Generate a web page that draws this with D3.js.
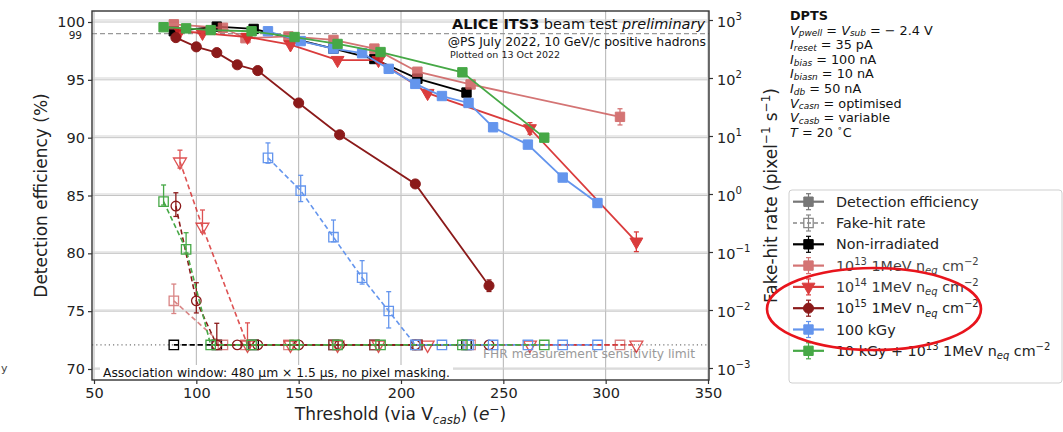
<!DOCTYPE html>
<html>
<head>
<meta charset="utf-8">
<script src="https://cdn.jsdelivr.net/npm/d3@7"></script>
<style>
  body { margin: 0; background: #fff; }
  svg { font-family: "DejaVu Sans", sans-serif; }
</style>
</head>
<body>
<div id="chart"></div>
<script>
// FHR sensitivity limit (pixel^-1 s^-1)
const LIM = 0.0025;

// Non-irradiated
const thrNonIrr = [89, 110, 128, 167, 187, 208, 232];
const effNonIrr = [99.2, 99.6, 99.4, 97.7, 96.8, 95.1, 93.9];
const effErrNonIrr = [0.15, 0.1, 0.1, 0.15, 0.15, 0.2, 0.25];
const fhrNonIrr = [LIM, LIM, LIM, LIM, LIM, LIM, LIM];
const fhrLoNonIrr = [null, null, null, null, null, null, null];
const fhrHiNonIrr = [null, null, null, null, null, null, null];

// 1e13 1MeV neq cm-2
const thr13 = [89, 113, 124, 145, 167, 187, 208, 234, 307];
const eff13 = [99.8, 99.5, 98.6, 98.75, 98.45, 97.7, 95.7, 94.6, 91.8];
const effErr13 = [0.1, 0.1, 0.15, 0.15, 0.15, 0.2, 0.25, 0.3, 0.7];
const fhr13 = [0.0144, LIM, LIM, LIM, LIM, LIM, LIM, LIM, LIM];
const fhrLo13 = [0.0087, null, null, null, null, null, null, null, null];
const fhrHi13 = [0.028, null, null, null, null, null, null, null, null];

// 1e14 1MeV neq cm-2
const thr14 = [92, 103, 125, 146, 169, 189, 213, 263, 315];
const eff14 = [99.2, 99.05, 98.7, 98.05, 96.7, 96.7, 93.85, 90.8, 81.0];
const effErr14 = [0.15, 0.15, 0.15, 0.15, 0.2, 0.2, 0.3, 0.5, 0.85];
const fhr14 = [3.6, 0.27, LIM, LIM, LIM, LIM, LIM, LIM, LIM];
const fhrLo14 = [2.8, 0.22, null, null, null, null, null, null, null];
const fhrHi14 = [5.7, 0.53, 0.006, null, null, null, null, null, null];

// 1e15 1MeV neq cm-2
const thr15 = [90, 100, 110, 120, 130, 150, 170, 207, 243];
const eff15 = [98.65, 97.85, 97.35, 96.3, 95.8, 93.0, 90.25, 86.0, 77.2];
const effErr15 = [0.15, 0.15, 0.15, 0.2, 0.2, 0.2, 0.25, 0.3, 0.5];
const fhr15 = [0.62, 0.0144, LIM, LIM, LIM, LIM, LIM, LIM, LIM];
const fhrLo15 = [0.41, 0.0089, null, null, null, null, null, null, null];
const fhrHi15 = [1.05, 0.0295, 0.0059, null, null, null, null, null, null];

// 100 kGy
const thr100k = [135, 151, 167, 181, 194, 207, 220, 233, 245, 262, 279, 296];
const eff100k = [99.2, 98.35, 97.7, 97.3, 95.95, 94.65, 93.6, 93.0, 90.9, 89.4, 86.55, 84.35];
const effErr100k = [0.1, 0.15, 0.15, 0.15, 0.2, 0.2, 0.2, 0.2, 0.25, 0.3, 0.3, 0.35];
const fhr100k = [4.2, 1.14, 0.18, 0.036, 0.0096, LIM, LIM, LIM, LIM, LIM, LIM, LIM];
const fhrLo100k = [3.4, 0.74, 0.15, 0.028, 0.0049, null, null, null, null, null, null, null];
const fhrHi100k = [7.6, 2.1, 0.356, 0.071, 0.0207, null, null, null, null, null, null, null];

// 10 kGy + 1e13 1MeV neq cm-2
const thrMix = [84, 95, 107, 127, 148, 169, 190, 230, 270];
const effMix = [99.55, 99.45, 99.3, 99.2, 98.7, 98.1, 97.4, 95.65, 90.0];
const effErrMix = [0.1, 0.1, 0.1, 0.1, 0.15, 0.15, 0.2, 0.2, 0.3];
const fhrMix = [0.74, 0.111, LIM, LIM, LIM, LIM, LIM, LIM, LIM];
const fhrLoMix = [0.645, 0.096, null, null, null, null, null, null, null];
const fhrHiMix = [1.43, 0.215, null, null, null, null, null, null, null];

// ticks
const xTicks = [50, 100, 150, 200, 250, 300, 350];
const effTicks = [70, 75, 80, 85, 90, 95, 100];
const fhrTicks = [-3, -2, -1, 0, 1, 2, 3];

const W = 1063;
const H = 432;
const plot = { left: 92, right: 709, top: 11, bottom: 380 };

const x = d3.scaleLinear().domain([50, 350]).range([94, 708]);
const yEff = d3.scaleLinear().domain([70, 100]).range([369, 22]);
const yFhr = d3.scaleLog().domain([1e-3, 1e3]).range([368, 20]);

const series = [
  { label: [['Non-irradiated']], color: '#000', marker: 'square', thr: thrNonIrr, eff: effNonIrr, effErr: effErrNonIrr, fhr: fhrNonIrr, lo: fhrLoNonIrr, hi: fhrHiNonIrr, op: 1 },
  { label: [['10'], ['13', 'sup'], [' 1MeV n'], ['eq', 'sub it'], [' cm'], ['\u22122', 'sup']], color: '#cd5c5c', marker: 'square', thr: thr13, eff: eff13, effErr: effErr13, fhr: fhr13, lo: fhrLo13, hi: fhrHi13, op: 0.85 },
  { label: [['10'], ['14', 'sup'], [' 1MeV n'], ['eq', 'sub it'], [' cm'], ['\u22122', 'sup']], color: '#d62728', marker: 'tri', thr: thr14, eff: eff14, effErr: effErr14, fhr: fhr14, lo: fhrLo14, hi: fhrHi14, op: 0.9 },
  { label: [['10'], ['15', 'sup'], [' 1MeV n'], ['eq', 'sub it'], [' cm'], ['\u22122', 'sup']], color: '#8b1a1a', marker: 'circle', thr: thr15, eff: eff15, effErr: effErr15, fhr: fhr15, lo: fhrLo15, hi: fhrHi15, op: 1 },
  { label: [['100 kGy']], color: '#6495ed', marker: 'square', thr: thr100k, eff: eff100k, effErr: effErr100k, fhr: fhr100k, lo: fhrLo100k, hi: fhrHi100k, op: 1 },
  { label: [['10 kGy + 10'], ['13', 'sup'], [' 1MeV n'], ['eq', 'sub it'], [' cm'], ['\u22122', 'sup']], color: '#46a846', marker: 'square', thr: thrMix, eff: effMix, effErr: effErrMix, fhr: fhrMix, lo: fhrLoMix, hi: fhrHiMix, op: 1 }
];

function rich(sel, parts, fs, subShift) {
  const sub = subShift == null ? 0.25 : subShift;
  let shift = 0;
  parts.forEach(p => {
    const txt = p[0];
    const kind = (p[1] || '').split(' ');
    let target = 0;
    if (kind.includes('sup')) target = -0.42 * fs;
    if (kind.includes('sub')) target = sub * fs;
    const ts = sel.append('tspan').text(txt).attr('dy', target - shift);
    shift = target;
    if (kind.includes('sup') || kind.includes('sub')) ts.attr('font-size', fs * 0.7);
    if (kind.includes('it')) ts.attr('font-style', 'italic');
    if (kind.includes('bold')) ts.attr('font-weight', 'bold');
  });
  return sel;
}

function symbolPath(type, filled) {
  if (type === 'circle') return d3.symbol(d3.symbolCircle, filled ? 80 : 72)();
  if (type === 'tri') return d3.symbol(d3.symbolTriangle, 72)();
  return d3.symbol(d3.symbolSquare, 88)();
}

function marker(g, type, cx, cy, color, filled) {
  const rot = type === 'tri' ? ' rotate(180)' : '';
  g.append('path')
    .attr('d', symbolPath(type, filled))
    .attr('transform', `translate(${cx},${cy})${rot}`)
    .attr('fill', filled ? color : 'none')
    .attr('stroke', color)
    .attr('stroke-width', filled ? 1 : 1.3);
}

function errBar(g, cx, y1, y2, color, w) {
  g.append('line').attr('x1', cx).attr('x2', cx).attr('y1', y1).attr('y2', y2)
    .attr('stroke', color).attr('stroke-width', w);
  [y1, y2].forEach(yy => g.append('line')
    .attr('x1', cx - 2.5).attr('x2', cx + 2.5).attr('y1', yy).attr('y2', yy)
    .attr('stroke', color).attr('stroke-width', w));
}

const svg = d3.select('#chart').append('svg').attr('width', W).attr('height', H);

svg.append('rect').attr('width', W).attr('height', H).attr('fill', '#fff');

// grids
const grid = svg.append('g');
grid.selectAll('.vg').data(xTicks).enter().append('line')
  .attr('x1', d => x(d)).attr('x2', d => x(d))
  .attr('y1', plot.top).attr('y2', plot.bottom)
  .attr('stroke', '#b4b4b4').attr('stroke-width', 1);
grid.selectAll('.hg').data(effTicks).enter().append('line')
  .attr('x1', plot.left).attr('x2', plot.right)
  .attr('y1', d => yEff(d)).attr('y2', d => yEff(d))
  .attr('stroke', '#c4c4c4').attr('stroke-width', 1);
grid.selectAll('.hg2').data(fhrTicks).enter().append('line')
  .attr('x1', plot.left).attr('x2', plot.right)
  .attr('y1', d => yFhr(Math.pow(10, d))).attr('y2', d => yFhr(Math.pow(10, d)))
  .attr('stroke', '#d4d4d4').attr('stroke-width', 1);

// 99 % reference
svg.append('line')
  .attr('x1', plot.left).attr('x2', plot.right)
  .attr('y1', yEff(99)).attr('y2', yEff(99))
  .attr('stroke', '#999').attr('stroke-width', 1.2).attr('stroke-dasharray', '5,3');

// FHR sensitivity limit
svg.append('line')
  .attr('x1', plot.left).attr('x2', plot.right)
  .attr('y1', yFhr(LIM)).attr('y2', yFhr(LIM))
  .attr('stroke', '#777').attr('stroke-width', 1.1).attr('stroke-dasharray', '1.2,3');
svg.append('text')
  .attr('x', 695).attr('y', yFhr(LIM) + 13)
  .attr('text-anchor', 'end').attr('font-size', 12.3).attr('fill', '#9a9a9a')
  .text('FHR measurement sensitivity limit');

// association window note
const note = svg.append('g');
const noteText = note.append('text')
  .attr('x', 103).attr('y', 377)
  .attr('font-size', 12.3).attr('fill', '#111')
  .text('Association window: 480 \u03bcm \u00d7 1.5 \u03bcs, no pixel masking.');
const nb = noteText.node().getBBox();
note.insert('rect', 'text')
  .attr('x', nb.x - 3).attr('y', nb.y - 1).attr('width', nb.width + 6).attr('height', nb.height + 1)
  .attr('fill', '#fff');

// efficiency series
const effLine = d3.line().x(d => x(d[0])).y(d => yEff(d[1]));
series.forEach(s => {
  const g = svg.append('g').attr('opacity', s.op);
  const pts = s.thr.map((t, i) => [t, s.eff[i], s.effErr[i]]);
  g.append('path').attr('d', effLine(pts))
    .attr('fill', 'none').attr('stroke', s.color).attr('stroke-width', 1.8);
  pts.forEach(p => errBar(g, x(p[0]), yEff(p[1] - p[2]), yEff(p[1] + p[2]), s.color, 1.3));
  pts.forEach(p => marker(g, s.marker, x(p[0]), yEff(p[1]), s.color, true));
});

// fake-hit rate series
const fhrLine = d3.line().x(d => x(d[0])).y(d => yFhr(d[1]));
series.forEach(s => {
  const g = svg.append('g').attr('opacity', s.op === 1 ? 1 : s.op - 0.1);
  const pts = s.thr.map((t, i) => [t, s.fhr[i], s.lo[i], s.hi[i]]);
  g.append('path').attr('d', fhrLine(pts))
    .attr('fill', 'none').attr('stroke', s.color).attr('stroke-width', 1.6)
    .attr('stroke-dasharray', '5,3');
  pts.forEach(p => {
    if (p[3] != null) errBar(g, x(p[0]), yFhr(p[2] != null ? p[2] : p[1]), yFhr(p[3]), s.color, 1.3);
  });
  pts.forEach(p => marker(g, s.marker, x(p[0]), yFhr(p[1]), s.color, false));
});

// frame
svg.append('rect')
  .attr('x', plot.left).attr('y', plot.top)
  .attr('width', plot.right - plot.left).attr('height', plot.bottom - plot.top)
  .attr('fill', 'none').attr('stroke', '#333').attr('stroke-width', 1.4);

// axes
function styleAxis(g, fs) {
  g.select('.domain').remove();
  g.selectAll('.tick line').attr('stroke', '#333').attr('stroke-width', 1.2);
  g.selectAll('.tick text').attr('font-size', fs).attr('fill', '#222')
    .attr('font-family', '"DejaVu Sans", sans-serif');
}
svg.append('g').attr('transform', `translate(0,${plot.bottom})`)
  .call(d3.axisBottom(x).tickValues(xTicks).tickSize(4).tickPadding(4))
  .call(g => styleAxis(g, 14.5));
svg.append('g').attr('transform', `translate(${plot.left},0)`)
  .call(d3.axisLeft(yEff).tickValues(effTicks).tickSize(4).tickPadding(3))
  .call(g => styleAxis(g, 14.5));
svg.append('g').attr('transform', `translate(${plot.left},0)`)
  .call(d3.axisLeft(yEff).tickValues([99]).tickSize(0).tickPadding(10))
  .call(g => styleAxis(g, 10.5))
  .call(g => g.selectAll('.tick text').attr('dy', '0.45em'));
const rAxis = svg.append('g').attr('transform', `translate(${plot.right},0)`)
  .call(d3.axisRight(yFhr).tickValues(fhrTicks.map(k => Math.pow(10, k))).tickSize(4).tickPadding(4).tickFormat(() => ''))
  .call(g => styleAxis(g, 14.5));
rAxis.selectAll('.tick text').each(function (d) {
  const t = d3.select(this).attr('dy', null).attr('dominant-baseline', null).attr('y', 6);
  rich(t, [['10'], [String(Math.round(Math.log10(d))).replace('-', '\u2212'), 'sup']], 14.5);
});

// axis titles
svg.append('text')
  .attr('transform', `translate(47,${(plot.top + plot.bottom) / 2}) rotate(-90)`)
  .attr('text-anchor', 'middle').attr('font-size', 17).attr('fill', '#222')
  .text('Detection efficiency (%)');
rich(svg.append('text')
  .attr('x', (plot.left + plot.right) / 2).attr('y', 420)
  .attr('text-anchor', 'middle').attr('font-size', 17).attr('fill', '#222'),
  [['Threshold (via V'], ['casb', 'sub it'], [') ('], ['e', 'it'], ['\u2212', 'sup'], [')']], 17);
rich(svg.append('text')
  .attr('transform', `translate(777,${(plot.top + plot.bottom) / 2}) rotate(-90)`)
  .attr('text-anchor', 'middle').attr('font-size', 17).attr('fill', '#222'),
  [['Fake-hit rate (pixel'], ['\u22121', 'sup'], [' s'], ['\u22121', 'sup'], [')']], 17);

// header text
rich(svg.append('text').attr('x', 705).attr('y', 29).attr('text-anchor', 'end')
  .attr('font-size', 14.5).attr('fill', '#111'),
  [['ALICE ITS3', 'bold'], [' beam test '], ['preliminary', 'it']], 14.5);
svg.append('text').attr('x', 706).attr('y', 46).attr('text-anchor', 'end')
  .attr('font-size', 12.3).attr('fill', '#111')
  .text('@PS July 2022, 10 GeV/c positive hadrons');
svg.append('text').attr('x', 450).attr('y', 58)
  .attr('font-size', 9.5).attr('fill', '#222')
  .text('Plotted on 13 Oct 2022');

// DPTS settings
const dptsLines = [
  [['DPTS', 'bold']],
  [['V', 'it'], ['pwell', 'sub it'], [' = '], ['V', 'it'], ['sub', 'sub it'], [' =  \u2212 2.4 V']],
  [['I', 'it'], ['reset', 'sub it'], [' = 35 pA']],
  [['I', 'it'], ['bias', 'sub it'], [' = 100 nA']],
  [['I', 'it'], ['biasn', 'sub it'], [' = 10 nA']],
  [['I', 'it'], ['db', 'sub it'], [' = 50 nA']],
  [['V', 'it'], ['casn', 'sub it'], [' = optimised']],
  [['V', 'it'], ['casb', 'sub it'], [' = variable']],
  [['T', 'it'], [' = 20 '], ['\u2218', 'sup'], ['C']]
];
dptsLines.forEach((parts, i) => {
  rich(svg.append('text').attr('x', 790).attr('y', 20 + i * 14.6)
    .attr('font-size', 12.8).attr('fill', '#111'), parts, 12.8, 0.14);
});

// legend
const leg = svg.append('g');
leg.append('rect').attr('x', 789).attr('y', 190).attr('width', 273).attr('height', 193)
  .attr('rx', 3).attr('fill', '#fff').attr('fill-opacity', 0.85)
  .attr('stroke', '#cfcfcf').attr('stroke-width', 1);
const legItems = [
  { label: [['Detection efficiency']], color: '#777', marker: 'square', filled: true, dash: null, op: 1 },
  { label: [['Fake-hit rate']], color: '#888', marker: 'square', filled: false, dash: '4,3', op: 1 }
].concat(series.map(s => ({ label: s.label, color: s.color, marker: s.marker, filled: true, dash: null, op: s.op })));
legItems.forEach((it, i) => {
  const cy = 201.7 + i * 21.3;
  const g = leg.append('g').attr('opacity', it.op);
  g.append('line').attr('x1', 793).attr('x2', 824).attr('y1', cy).attr('y2', cy)
    .attr('stroke', it.color).attr('stroke-width', it.dash ? 1.3 : 2.2)
    .attr('stroke-dasharray', it.dash);
  errBar(g, 808.5, cy - 8, cy + 8, it.color, 1.2);
  marker(g, it.marker, 808.5, cy, it.color, it.filled);
  rich(g.append('text').attr('x', 836).attr('y', cy + 5).attr('font-size', 14.3).attr('fill', '#222'),
    it.label, 14.3);
});

// highlight ring
svg.append('ellipse')
  .attr('cx', 874).attr('cy', 309).attr('rx', 107).attr('ry', 41)
  .attr('fill', 'none').attr('stroke', '#e8141c').attr('stroke-width', 2.6);

// stray crop fragment at the left edge
svg.append('text').attr('x', 1).attr('y', 372).attr('font-size', 11).attr('fill', '#444').text('y');
</script>
</body>
</html>
